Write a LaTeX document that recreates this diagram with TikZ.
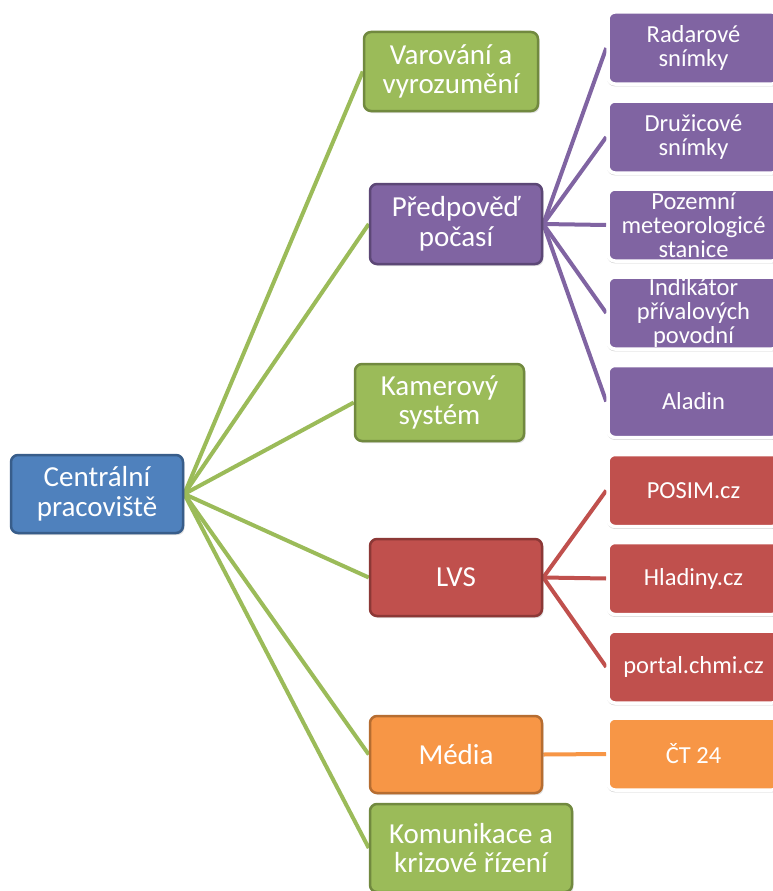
\documentclass[tikz,border=0pt]{standalone}
\usepackage{fontspec}
\setmainfont{Carlito}
\usetikzlibrary{shadows,backgrounds}
\definecolor{gfill}{HTML}{9BBB59}\definecolor{gdraw}{HTML}{71893F}
\definecolor{bfill}{HTML}{4F81BD}\definecolor{bdraw}{HTML}{385D8A}
\definecolor{pfill}{HTML}{8064A2}\definecolor{pdraw}{HTML}{5C4776}
\definecolor{rfill}{HTML}{C0504D}\definecolor{rdraw}{HTML}{8C3836}
\definecolor{ofill}{HTML}{F79646}\definecolor{odraw}{HTML}{B66D31}
\tikzset{
  midbox/.style={rounded corners=7pt, line width=2.5pt, text=white, align=center,
    minimum width=172pt, minimum height=78pt, inner sep=0pt,
    font=\fontsize{29}{29.5}\selectfont,
    drop shadow={opacity=0.25, shadow xshift=1.5pt, shadow yshift=-2pt}},
  leafbox/.style={rounded corners=7pt, line width=3.5pt, draw=white, text=white, align=center,
    minimum width=171pt, minimum height=72pt, inner sep=0pt,
    font=\fontsize{24.5}{24}\selectfont,
    drop shadow={opacity=0.35, shadow xshift=1pt, shadow yshift=-1.5pt, shadow scale=1.02}},
  gline/.style={draw=gfill, line width=4pt},
  pline/.style={draw=pfill, line width=4pt},
  rline/.style={draw=rfill, line width=4pt},
  oline/.style={draw=ofill, line width=4pt},
}
\begin{document}
\begin{tikzpicture}[x=1pt,y=-1pt]
\clip (0,0) rectangle (773,891);
% middle level
\node[midbox, fill=bfill, draw=bdraw] (cent) at (97,494) {Centrální\\pracoviště};
\node[midbox, fill=gfill, draw=gdraw, minimum width=174pt, minimum height=79pt] (var) at (451,71.5) {Varování a\\vyrozumění};
\node[midbox, fill=pfill, draw=pdraw, minimum height=80pt] (pred) at (456,224) {Předpověď\\počasí};
\node[midbox, fill=gfill, draw=gdraw, minimum width=169pt, minimum height=77pt] (kam) at (439.5,402.5) {Kamerový\\systém};
\node[midbox, fill=rfill, draw=rdraw, minimum height=77pt] (lvs) at (456,577.5) {LVS};
\node[midbox, fill=ofill, draw=odraw, minimum height=77pt] (med) at (456,754.5) {Média};
\node[midbox, fill=gfill, draw=gdraw, minimum width=202pt, minimum height=88pt] (kom) at (471,848) {Komunikace a\\krizové řízení};
% leaves
\node[leafbox, fill=pfill] (rad) at (693.5,48) {Radarové\\snímky};
\node[leafbox, fill=pfill] (dru) at (693.5,137) {Družicové\\snímky};
\node[leafbox, fill=pfill] (poz) at (693.5,225) {Pozemní\\meteorologicé\\stanice};
\node[leafbox, fill=pfill] (ind) at (693.5,313) {Indikátor\\přívalových\\povodní};
\node[leafbox, fill=pfill] (ala) at (693.5,401.5) {Aladin};
\node[leafbox, fill=rfill] (pos) at (693.5,490.5) {POSIM.cz};
\node[leafbox, fill=rfill] (hla) at (693.5,578.5) {Hladiny.cz};
\node[leafbox, fill=rfill] (por) at (693.5,667) {portal.chmi.cz};
\node[leafbox, fill=ofill] (ct) at (693.5,754) {ČT 24};
% connectors
\begin{scope}[on background layer]
\fill[white] (0,0) rectangle (773,891);
\foreach \n in {var,pred,kam,lvs,med,kom} \draw[gline] (cent.east) -- (\n.west);
\foreach \n in {rad,dru,poz,ind,ala} \draw[pline] (pred.east) -- (\n.west);
\foreach \n in {pos,hla,por} \draw[rline] (lvs.east) -- (\n.west);
\draw[oline] (med.east) -- (ct.west);
\end{scope}
\end{tikzpicture}
\end{document}
